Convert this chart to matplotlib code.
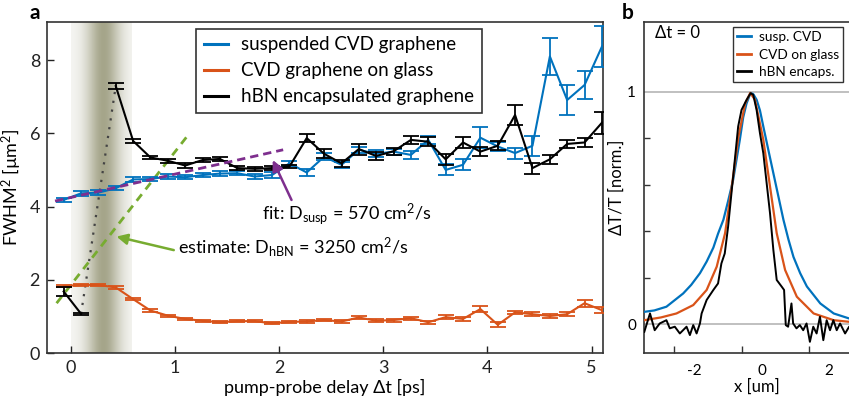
import numpy as np
import matplotlib
matplotlib.use("Agg")
import matplotlib.pyplot as plt
from matplotlib.lines import Line2D

plt.rcParams['font.family'] = ['Lato', 'DejaVu Sans']
plt.rcParams['mathtext.fontset'] = 'custom'
plt.rcParams['mathtext.rm'] = 'Lato'
plt.rcParams['mathtext.it'] = 'Lato'
plt.rcParams['axes.unicode_minus'] = False

# ---------------- Panel a data ----------------
delay = np.round(-0.067 + np.arange(32) / 6.0, 3)

susp = [4.18, 4.36, 4.38, 4.50, 4.74, 4.75, 4.82, 4.80, 4.86, 4.90,
        4.91, 4.82, 4.86, 5.18, 4.93, 5.36, 5.14, 5.55, 5.44, 5.50,
        5.41, 5.82, 5.00, 5.14, 5.88, 5.64, 5.46, 5.66, 8.10, 6.91,
        7.32, 8.37]
susp_err = [0.06, 0.06, 0.06, 0.06, 0.06, 0.06, 0.06, 0.06, 0.06, 0.06,
            0.06, 0.07, 0.07, 0.07, 0.10, 0.10, 0.08, 0.08, 0.10, 0.08,
            0.12, 0.12, 0.15, 0.15, 0.28, 0.12, 0.15, 0.27, 0.50, 0.40,
            0.38, 0.57]

glass = [1.83, 1.86, 1.86, 1.79, 1.47, 1.16, 1.02, 0.93, 0.88, 0.84,
         0.87, 0.87, 0.81, 0.85, 0.86, 0.90, 0.86, 0.97, 0.88, 0.90,
         0.95, 0.84, 0.98, 0.93, 1.20, 0.77, 1.11, 1.06, 1.01, 1.06,
         1.36, 1.17]
glass_err = [0.04, 0.03, 0.03, 0.03, 0.03, 0.03, 0.03, 0.03, 0.03, 0.03,
             0.03, 0.03, 0.03, 0.03, 0.03, 0.03, 0.03, 0.04, 0.04, 0.04,
             0.04, 0.04, 0.05, 0.05, 0.08, 0.07, 0.05, 0.05, 0.05, 0.05,
             0.10, 0.08]

hbn = [1.68, 1.07, np.nan, 7.29, 5.79, 5.34, 5.25, 5.12, 5.27, 5.30,
       5.05, 5.03, 5.05, 5.09, 5.87, 5.44, 5.18, 5.57, 5.38, 5.51,
       5.82, 5.77, 5.29, 5.75, 5.50, 5.66, 6.50, 5.05, 5.29, 5.71,
       5.75, 6.29]
hbn_err = [0.12, 0.02, 0.0, 0.08, 0.06, 0.05, 0.05, 0.06, 0.06, 0.06,
           0.05, 0.05, 0.05, 0.05, 0.12, 0.12, 0.10, 0.15, 0.12, 0.10,
           0.12, 0.12, 0.15, 0.15, 0.12, 0.12, 0.26, 0.15, 0.12, 0.12,
           0.12, 0.30]

fit_t = [-0.15, 2.04]
fit_v = [4.15, 5.55]
est_t = [-0.135, 1.135]
est_v = [1.36, 5.98]

labels_a = ['suspended CVD graphene', 'CVD graphene on glass', 'hBN encapsulated graphene']

# ---------------- Panel b data ----------------
xb_susp = [-3.50, -3.20, -2.84, -2.34, -2.10, -1.84, -1.64, -1.44, -1.30, -1.14,
           -1.00, -0.85, -0.65, -0.55, -0.45, -0.33, -0.25, -0.15, -0.05, 0.05,
           0.20, 0.35, 0.50, 0.65, 0.80, 0.95, 1.15, 1.35, 1.75, 2.15, 2.62, 3.0]
yb_susp = [0.054, 0.060, 0.076, 0.133, 0.170, 0.220, 0.270, 0.330, 0.390, 0.450,
           0.530, 0.621, 0.794, 0.890, 0.950, 0.995, 0.990, 0.966, 0.920, 0.851,
           0.750, 0.650, 0.550, 0.450, 0.365, 0.290, 0.220, 0.163, 0.090, 0.047, 0.025, 0.02]

xb_glass = [-3.50, -3.00, -2.54, -2.04, -1.64, -1.34, -1.09, -0.89, -0.69, -0.49,
            -0.34, -0.20, 0.05, 0.25, 0.45, 0.70, 1.05, 1.55, 2.15, 2.62, 3.0]
yb_glass = [0.018, 0.030, 0.047, 0.083, 0.148, 0.248, 0.392, 0.593, 0.808, 0.950,
            0.995, 0.966, 0.794, 0.593, 0.392, 0.234, 0.119, 0.047, 0.018, 0.011, 0.01]

xb_hbn = [-3.50, -3.33, -3.19, -3.04, -2.84, -2.74, -2.59, -2.44, -2.24, -2.14,
          -2.04, -1.94, -1.84, -1.79, -1.64, -1.44, -1.30, -1.20, -1.10, -1.00,
          -0.90, -0.80, -0.70, -0.60, -0.45, -0.33, -0.25, -0.15, -0.05, 0.05,
          0.15, 0.25, 0.35, 0.45, 0.60, 0.67, 0.72, 0.79, 0.89, 0.94,
          1.04, 1.14, 1.24, 1.34, 1.44, 1.54, 1.64, 1.74, 1.84, 1.94,
          2.04, 2.14, 2.24, 2.34, 2.49, 2.61, 2.8]
yb_hbn = [-0.032, 0.047, -0.025, 0.004, 0.018, -0.017, -0.010, -0.039, -0.010, -0.046,
          -0.003, -0.039, 0.004, 0.047, 0.105, 0.148, 0.176, 0.262, 0.305, 0.420,
          0.564, 0.707, 0.851, 0.922, 0.965, 0.994, 0.987, 0.922, 0.822, 0.736,
          0.607, 0.478, 0.320, 0.191, 0.162, 0.148, -0.003, -0.010, 0.090, 0.004,
          -0.017, -0.003, -0.025, 0.004, -0.075, -0.010, -0.039, 0.033, -0.068, 0.018,
          -0.025, 0.018, -0.025, 0.004, -0.039, -0.010, 0.0]

labels_b = ['susp. CVD', 'CVD on glass', 'hBN encaps.']

C_BLUE = '#0072BD'
C_ORANGE = '#D95319'
C_BLACK = '#000000'
C_PURPLE = '#7E2F8E'
C_GREEN = '#77AC30'
SPINE = '#333333'

fig = plt.figure(figsize=(8.49, 4.03), dpi=100)
W, H = 849.0, 403.0

# ---------------- Panel a ----------------
ax = fig.add_axes([47 / W, (H - 353) / H, (603 - 47) / W, (353 - 22) / H])
ax.set_xlim(-0.227, 5.11)
ax.set_ylim(0, 9.04)

# shaded pump pulse band
tt = np.linspace(0.0, 0.58, 300)
alpha = np.exp(-((tt - 0.31) / 0.16) ** 2) * 0.74 + 0.08
img = np.zeros((1, tt.size, 4))
img[0, :, 0] = 0.57
img[0, :, 1] = 0.57
img[0, :, 2] = 0.44
img[0, :, 3] = alpha
ax.imshow(img, extent=[0.0, 0.58, 0, 9.04], aspect='auto', zorder=0, interpolation='bilinear')

eb_kw = dict(capsize=5.5, elinewidth=1.3, capthick=1.3, lw=1.5)
ax.errorbar(delay, glass, yerr=glass_err, color=C_ORANGE, zorder=3, **eb_kw)
ax.errorbar(delay, susp, yerr=susp_err, color=C_BLUE, zorder=4, **eb_kw)
hb = np.array(hbn)
ax.errorbar(delay, hb, yerr=hbn_err, color=C_BLACK, zorder=5, **eb_kw)
ax.plot(delay[[1, 3]], hb[[1, 3]], ls=(0, (1, 3)), color='#444444', lw=1.6, zorder=2)

ax.plot(fit_t, fit_v, ls=(0, (3, 1.8)), color=C_PURPLE, lw=2.0, zorder=6)
ax.plot(est_t, est_v, ls=(0, (3, 2.2)), color=C_GREEN, lw=2.0, zorder=2)

ax.annotate('', xy=(1.94, 5.27), xytext=(2.12, 4.18),
            arrowprops=dict(arrowstyle='-|>', color=C_PURPLE, lw=1.8,
                            mutation_scale=16, shrinkA=0, shrinkB=0), zorder=7)
ax.annotate('', xy=(0.44, 3.18), xytext=(0.99, 2.81),
            arrowprops=dict(arrowstyle='-|>', color=C_GREEN, lw=1.8,
                            mutation_scale=16, shrinkA=0, shrinkB=0), zorder=7)

ax.text(1.833, 3.78, r'fit: D$_{\mathregular{susp}}$ = 570 cm$^{\mathregular{2}}$/s',
        fontsize=13, va='center', ha='left')
ax.text(1.033, 2.88, r'estimate: D$_{\mathregular{hBN}}$ = 3250 cm$^{\mathregular{2}}$/s',
        fontsize=13, va='center', ha='left')

ax.set_xticks([0, 1, 2, 3, 4, 5])
ax.set_yticks([0, 2, 4, 6, 8])
ax.tick_params(direction='in', length=5, width=1, labelsize=13, colors='#222222', pad=5)
for s in ax.spines.values():
    s.set_color(SPINE)
    s.set_linewidth(1.2)
ax.set_xlabel('pump-probe delay \u0394t [ps]', fontsize=13, labelpad=2)
ax.set_ylabel('FWHM$^{\\mathregular{2}}$ [\u00b5m$^{\\mathregular{2}}$]', fontsize=13, labelpad=4)

handles_a = [Line2D([], [], color=c, lw=2.2) for c in (C_BLUE, C_ORANGE, C_BLACK)]
leg = ax.legend(handles_a, labels_a, loc='upper left', bbox_to_anchor=(0.268, 0.979),
                fontsize=13.5, frameon=True, fancybox=False, edgecolor='black',
                handlelength=1.3, handletextpad=0.7, borderpad=0.4, labelspacing=0.48,
                borderaxespad=0)
leg.get_frame().set_linewidth(1.2)
leg.set_zorder(10)

fig.text(29 / W, 1 - 13 / H, 'a', fontsize=15, fontweight='bold', va='center', ha='left')

# ---------------- Panel b ----------------
bx = fig.add_axes([644.3 / W, (H - 353) / H, (870 - 644.3) / W, (353 - 22) / H])
bx.set_xlim(-3.5, (870 - 761.7) / 33.5)
bx.set_ylim(-0.123, 1.30)
bx.axhline(0, color='#b5b5b5', lw=1.2, zorder=1)
bx.axhline(1, color='#b5b5b5', lw=1.2, zorder=1)
bx.plot(xb_susp, yb_susp, color=C_BLUE, lw=1.6, zorder=3)
bx.plot(xb_glass, yb_glass, color=C_ORANGE, lw=1.6, zorder=3)
bx.plot(xb_hbn, yb_hbn, color=C_BLACK, lw=1.4, zorder=4)

bx.set_xticks([-2, 0, 2])
bx.set_xticks([-2.6, -0.6, 1.4], minor=True)
bx.set_yticks([0, 1])
bx.set_yticks([0.2, 0.4, 0.6, 0.8], minor=True)
bx.tick_params(axis='x', which='major', length=0, labelsize=11, pad=8)
bx.tick_params(axis='x', which='minor', direction='in', length=5, width=1, colors=SPINE)
bx.tick_params(axis='y', which='major', length=0, labelsize=11, pad=6)
bx.tick_params(axis='y', which='minor', direction='in', length=4, width=1, colors=SPINE)
for s in bx.spines.values():
    s.set_color(SPINE)
    s.set_linewidth(1.2)
bx.set_xlabel('x [um]', fontsize=12, labelpad=0)
bx.set_ylabel('\u0394T/T [norm.]', fontsize=12, labelpad=2)
fig.text(655 / W, 1 - 33 / H, '\u0394t = 0', fontsize=12, va='center', ha='left')

handles_b = [Line2D([], [], color=c, lw=2.0) for c in (C_BLUE, C_ORANGE, C_BLACK)]
legb = bx.legend(handles_b, labels_b, loc='upper left',
                 bbox_to_anchor=((733 - 644.3) / (870 - 644.3), (353 - 26.7) / 331),
                 fontsize=9.8, frameon=True, fancybox=False, edgecolor='black',
                 handlelength=1.0, handletextpad=0.6, borderpad=0.3, labelspacing=0.42,
                 borderaxespad=0)
legb.get_frame().set_linewidth(1.0)

fig.text(622 / W, 1 - 13 / H, 'b', fontsize=15, fontweight='bold', va='center', ha='left')

fig.savefig('out.png', dpi=100)
